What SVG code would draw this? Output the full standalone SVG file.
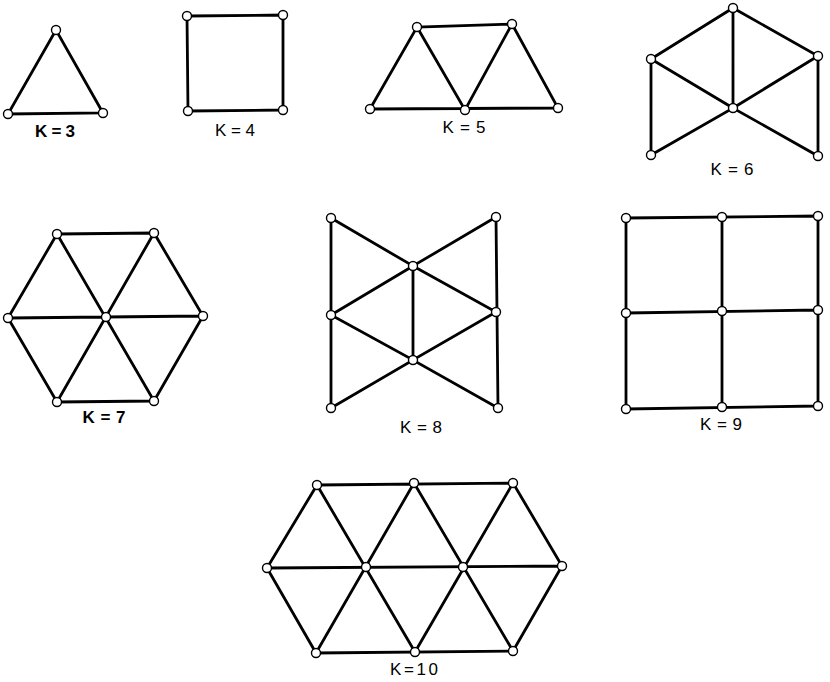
<svg xmlns="http://www.w3.org/2000/svg" width="830" height="682" viewBox="0 0 830 682">
<style>
.e{stroke:#000;stroke-width:2.8;stroke-linecap:round;fill:none}
.n{fill:#fff;stroke:#000;stroke-width:1.4}
.t{font-family:"Liberation Sans",Arial,sans-serif;font-size:17px;fill:#000;text-anchor:middle}
</style>
<rect width="830" height="682" fill="#fff"/>
<g id="connectors">
<path class="e" d="M56 30L8 114L103 113Z"/>
<path class="e" d="M187 16L283 15L283 110L188 111Z"/>
<path class="e" d="M370 109L417 27L512 24L558 108L370 109M417 27L465 110L512 24"/>
<path class="e" d="M651 59L733 8L818 56L818 156L733 108L651 155L651 59L733 108L818 56M733 8L733 108"/>
<path class="e" d="M57 234L154 233L203 316L154 401L57 402L8 318Z M57 234L154 401 M154 233L57 402 M8 318L203 316"/>
<path class="e" d="M331 218L331 408M496 217L498 408M331 218L413 266L496 217M413 266L331 315L413 360L496 312L413 266M413 266L413 360M331 408L413 360L498 408"/>
<path class="e" d="M626 218L818 216L818 406L626 409Z M722 217L722 407 M626 313L818 310"/>
<path class="e" d="M317 485L513 483L562 566L513 651L316 653L267 568Z M267 568L562 566 M317 485L415 652 M414 483L513 651 M414 483L316 653 M513 483L415 652"/>
</g>
<g id="k3">
<circle class="n" cx="56" cy="30" r="4.5"/><circle class="n" cx="8" cy="114" r="4.5"/><circle class="n" cx="103" cy="113" r="4.5"/>
<text class="t" x="55" y="137" font-weight="bold" textLength="40" lengthAdjust="spacing">K=3</text>
</g>
<g id="k4">
<circle class="n" cx="187" cy="16" r="4.5"/><circle class="n" cx="283" cy="15" r="4.5"/><circle class="n" cx="188" cy="111" r="4.5"/><circle class="n" cx="283" cy="110" r="4.5"/>
<text class="t" x="235" y="136" textLength="40" lengthAdjust="spacing">K=4</text>
</g>
<g id="k5">
<circle class="n" cx="417" cy="27" r="4.5"/><circle class="n" cx="512" cy="24" r="4.5"/><circle class="n" cx="370" cy="109" r="4.5"/><circle class="n" cx="465" cy="110" r="4.5"/><circle class="n" cx="558" cy="108" r="4.5"/>
<text class="t" x="464" y="133" textLength="43" lengthAdjust="spacing">K=5</text>
</g>
<g id="k6">
<circle class="n" cx="733" cy="8" r="4.5"/><circle class="n" cx="651" cy="59" r="4.5"/><circle class="n" cx="818" cy="56" r="4.5"/><circle class="n" cx="733" cy="108" r="4.5"/><circle class="n" cx="651" cy="155" r="4.5"/><circle class="n" cx="818" cy="156" r="4.5"/>
<text class="t" x="732" y="175" textLength="43" lengthAdjust="spacing">K=6</text>
</g>
<g id="k7">
<circle class="n" cx="57" cy="234" r="4.5"/><circle class="n" cx="154" cy="233" r="4.5"/><circle class="n" cx="8" cy="318" r="4.5"/><circle class="n" cx="106" cy="317" r="4.5"/><circle class="n" cx="203" cy="316" r="4.5"/><circle class="n" cx="57" cy="402" r="4.5"/><circle class="n" cx="154" cy="401" r="4.5"/>
<text class="t" x="104" y="423" textLength="43" lengthAdjust="spacing" font-weight="bold">K=7</text>
</g>
<g id="k8">
<circle class="n" cx="331" cy="218" r="4.5"/><circle class="n" cx="496" cy="217" r="4.5"/><circle class="n" cx="413" cy="266" r="4.5"/><circle class="n" cx="331" cy="315" r="4.5"/><circle class="n" cx="496" cy="312" r="4.5"/><circle class="n" cx="413" cy="360" r="4.5"/><circle class="n" cx="331" cy="408" r="4.5"/><circle class="n" cx="498" cy="408" r="4.5"/>
<text class="t" x="421" y="433" textLength="42" lengthAdjust="spacing">K=8</text>
</g>
<g id="k9">
<circle class="n" cx="626" cy="218" r="4.5"/><circle class="n" cx="722" cy="217" r="4.5"/><circle class="n" cx="818" cy="216" r="4.5"/><circle class="n" cx="626" cy="313" r="4.5"/><circle class="n" cx="722" cy="311" r="4.5"/><circle class="n" cx="818" cy="310" r="4.5"/><circle class="n" cx="626" cy="409" r="4.5"/><circle class="n" cx="722" cy="407" r="4.5"/><circle class="n" cx="818" cy="406" r="4.5"/>
<text class="t" x="721" y="430" textLength="42" lengthAdjust="spacing">K=9</text>
</g>
<g id="k10">
<circle class="n" cx="317" cy="485" r="4.5"/><circle class="n" cx="414" cy="483" r="4.5"/><circle class="n" cx="513" cy="483" r="4.5"/><circle class="n" cx="267" cy="568" r="4.5"/><circle class="n" cx="366" cy="567" r="4.5"/><circle class="n" cx="463" cy="567" r="4.5"/><circle class="n" cx="562" cy="566" r="4.5"/><circle class="n" cx="316" cy="653" r="4.5"/><circle class="n" cx="415" cy="652" r="4.5"/><circle class="n" cx="513" cy="651" r="4.5"/>
<text class="t" x="414" y="675" textLength="48" lengthAdjust="spacing">K=10</text>
</g>
</svg>
